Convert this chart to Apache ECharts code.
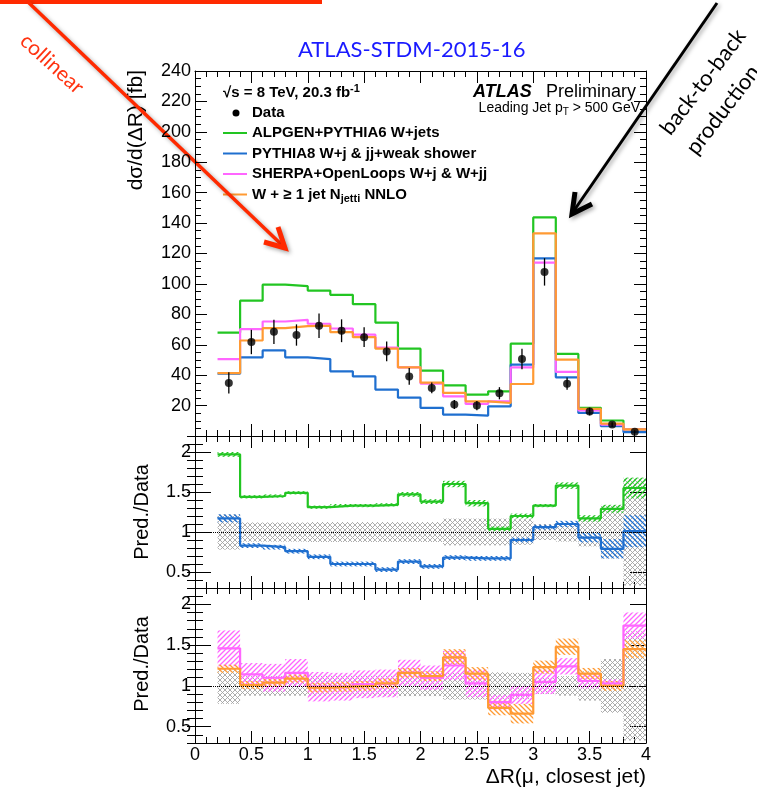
<!DOCTYPE html>
<html>
<head>
<meta charset="utf-8">
<script src="https://cdn.jsdelivr.net/npm/echarts@6/dist/echarts.min.js"></script>
<style>
  html, body { margin: 0; padding: 0; background: #fff; }
  #chart { width: 757px; height: 797px; }
</style>
</head>
<body>
<div id="chart"></div>
<script>
// Bin edges in ΔR(μ, closest jet)
const edges = [0.2, 0.4, 0.6, 0.8, 1.0, 1.2, 1.4, 1.6, 1.8, 2.0, 2.2, 2.4, 2.6, 2.8, 3.0, 3.2, 3.4, 3.6, 3.8, 4.0];
const ratioTicks = [0.5, 1, 1.5, 2];

// dσ/d(ΔR) [fb]
const dataVals = [34.9, 61.8, 68.5, 66.4, 72.5, 69.2, 65.0, 55.6, 39.2, 31.6, 20.7, 20.0, 28.1, 50.6, 107.9, 34.4, 16.1, 7.5, 2.8];
const dataErr  = [7.0, 8.0, 8.0, 7.0, 8.0, 7.5, 6.5, 6.5, 5.5, 3.5, 3.0, 3.0, 4.0, 6.7, 9.0, 4.0, 2.5, 1.5, 1.0];
const alpgen   = [68.0, 89.0, 99.5, 98.5, 95.6, 92.8, 86.7, 74.6, 57.4, 43.0, 33.3, 27.2, 29.4, 60.7, 143.7, 54.0, 18.5, 10.2, 4.3];
const pythia8  = [41.0, 51.7, 56.3, 51.7, 50.6, 42.5, 39.2, 30.5, 25.2, 18.5, 14.1, 13.4, 19.5, 46.9, 116.8, 38.6, 15.2, 6.4, 2.5];
const sherpa   = [50.6, 70.3, 75.3, 76.4, 73.8, 70.7, 66.6, 58.2, 45.1, 34.5, 26.1, 21.1, 22.8, 45.1, 114.0, 42.1, 16.9, 7.5, 4.3];
const nnlo     = [41.4, 62.8, 70.9, 72.2, 72.5, 68.3, 65.0, 57.4, 45.1, 35.1, 28.3, 22.8, 21.7, 34.2, 133.2, 50.2, 17.8, 8.2, 4.3];

// Pred./Data ratios and their uncertainties
const dataRelErr    = [0.22, 0.12, 0.12, 0.12, 0.125, 0.125, 0.125, 0.125, 0.125, 0.125, 0.167, 0.167, 0.167, 0.16, 0.10, 0.12, 0.18, 0.33, 0.67];
const ratioAlpgen   = [1.97, 1.44, 1.45, 1.49, 1.31, 1.33, 1.33, 1.34, 1.47, 1.38, 1.60, 1.36, 1.04, 1.20, 1.33, 1.58, 1.17, 1.29, 1.55];
const errAlpgen     = [0.03, 0.02, 0.02, 0.02, 0.02, 0.02, 0.02, 0.02, 0.03, 0.03, 0.04, 0.04, 0.03, 0.03, 0.02, 0.04, 0.04, 0.05, 0.13];
const ratioPythia8  = [1.17, 0.83, 0.81, 0.76, 0.69, 0.60, 0.60, 0.53, 0.63, 0.57, 0.68, 0.67, 0.67, 0.90, 1.06, 1.10, 0.93, 0.79, 1.01];
const errPythia8    = [0.05, 0.03, 0.03, 0.03, 0.03, 0.03, 0.03, 0.03, 0.03, 0.03, 0.03, 0.03, 0.03, 0.03, 0.03, 0.04, 0.06, 0.12, 0.20];
const ratioSherpa   = [1.46, 1.14, 1.10, 1.16, 0.99, 0.99, 1.02, 1.03, 1.16, 1.10, 1.25, 1.03, 0.80, 0.89, 1.05, 1.24, 1.06, 1.03, 1.74];
const errSherpa     = [0.22, 0.14, 0.17, 0.17, 0.18, 0.17, 0.17, 0.17, 0.16, 0.15, 0.18, 0.17, 0.09, 0.11, 0.15, 0.10, 0.09, 0.05, 0.16];
const ratioNnlo     = [1.21, 1.01, 1.04, 1.09, 0.98, 0.99, 1.00, 1.03, 1.16, 1.12, 1.35, 1.15, 0.73, 0.66, 1.23, 1.48, 1.15, 1.00, 1.45];
const errNnlo       = [0.05, 0.05, 0.05, 0.05, 0.06, 0.06, 0.06, 0.06, 0.06, 0.06, 0.10, 0.08, 0.09, 0.12, 0.08, 0.10, 0.07, 0.06, 0.11];

const C_GREEN = '#22c522', C_BLUE = '#1f6fcf', C_PINK = '#ff66ff', C_ORANGE = '#ff9a33';
const F = '"Liberation Sans", Arial, Helvetica, sans-serif';
const FA = 'Lato, "Open Sans", sans-serif';

// ---- hatch fill patterns ----
function hatch(color, dir, size, width) {
  const c = document.createElement('canvas');
  c.width = size; c.height = size;
  const g = c.getContext('2d');
  g.strokeStyle = color; g.lineWidth = width;
  g.beginPath();
  const s = size;
  if (dir >= 0) { // "/"
    g.moveTo(-s, s); g.lineTo(s, -s);
    g.moveTo(0, s); g.lineTo(s, 0);
    g.moveTo(0, 2 * s); g.lineTo(2 * s, 0);
  }
  if (dir <= 0) { // "\"
    g.moveTo(-s, 0); g.lineTo(s, 2 * s);
    g.moveTo(0, 0); g.lineTo(s, s);
    g.moveTo(0, -s); g.lineTo(2 * s, s);
  }
  g.stroke();
  return { image: c, repeat: 'repeat' };
}
const patGrey   = hatch('#a4a4a4', 0, 5, 0.9);
const patGreen  = hatch(C_GREEN, 1, 5, 1.3);
const patBlue   = hatch(C_BLUE, -1, 5, 1.3);
const patPink   = hatch(C_PINK, 1, 5, 1.3);
const patOrange = hatch(C_ORANGE, -1, 5, 1.3);

// ---- axes ----
function xAx(g, pos, labels) {
  return {
    type: 'value', gridIndex: g, position: pos, min: 0, max: 4, interval: 0.5,
    axisLine: { show: true, onZero: false, lineStyle: { color: '#000', width: 1 } },
    axisTick: { show: true, inside: true, length: 12, lineStyle: { color: '#000' } },
    minorTick: { show: true, splitNumber: 5, length: 6, lineStyle: { color: '#000' } },
    splitLine: { show: false },
    axisLabel: { show: labels, margin: 3, color: '#000', fontSize: 18, fontFamily: F,
      formatter: v => String(+(+v).toFixed(1)) }
  };
}
function yTop(pos, labels) {
  return {
    type: 'value', gridIndex: 0, position: pos, min: 0, max: 240, interval: 20,
    axisLine: { show: true, onZero: false, lineStyle: { color: '#000', width: 1 } },
    axisTick: { show: true, inside: true, length: 12, lineStyle: { color: '#000' } },
    minorTick: { show: true, splitNumber: 4, length: 6, lineStyle: { color: '#000' } },
    splitLine: { show: false },
    axisLabel: { show: labels, margin: 4, color: '#000', fontSize: 18, fontFamily: F,
      formatter: v => (v === 0 ? '' : String(v)) }
  };
}
function yRatioMajor(g, pos, labels) {
  return {
    type: 'value', gridIndex: g, position: pos, min: 0.3, max: 2.2,
    axisLine: { show: true, onZero: false, lineStyle: { color: '#000', width: 1 } },
    axisTick: { show: true, inside: true, length: 16, customValues: ratioTicks, lineStyle: { color: '#000' } },
    splitLine: { show: false },
    axisLabel: { show: labels, margin: 4, color: '#000', fontSize: 18, fontFamily: F,
      customValues: ratioTicks, formatter: v => String(+(+v).toFixed(1)) }
  };
}
function yRatioMinor(g, pos) {
  return {
    type: 'value', gridIndex: g, position: pos, min: 0.3, max: 2.2, interval: 0.1,
    axisLine: { show: false },
    axisTick: { show: true, inside: true, length: 8, lineStyle: { color: '#000' } },
    splitLine: { show: false },
    axisLabel: { show: false }
  };
}

// ---- series builders ----
function stepSeries(name, vals, color, xi, yi, extra) {
  const pts = edges.map((e, i) => [e, vals[Math.min(i, vals.length - 1)]]);
  return Object.assign({
    name, type: 'line', step: 'end', xAxisIndex: xi, yAxisIndex: yi,
    data: pts, showSymbol: false, symbol: 'none', silent: true, z: 4,
    lineStyle: { color, width: 2.2 }, itemStyle: { color }
  }, extra || {});
}
function bandSeries(vals, errs, pattern, xi, yi, z) {
  return {
    type: 'custom', xAxisIndex: xi, yAxisIndex: yi, silent: true, z, clip: true,
    data: vals.map((v, i) => [edges[i], edges[i + 1], v - errs[i], v + errs[i]]),
    encode: { x: [0, 1], y: [2, 3] },
    renderItem: (params, api) => {
      const a = api.coord([api.value(0), api.value(3)]);
      const b = api.coord([api.value(1), api.value(2)]);
      return { type: 'rect', shape: { x: a[0], y: a[1], width: b[0] - a[0], height: b[1] - a[1] },
        style: { fill: pattern } };
    }
  };
}
const unity = dataRelErr.map(() => 1);
const refLine = { silent: true, symbol: 'none', label: { show: false },
  lineStyle: { type: 'dotted', color: '#000', width: 1 }, data: [{ yAxis: 1 }] };

const centers = dataVals.map((_, i) => (edges[i] + edges[i + 1]) / 2);

// axis indices: x 0/1 main panel, 2/3 middle, 4/5 bottom; y 0 main, 2 middle, 6 bottom
const series = [
  stepSeries('ALPGEN+PYTHIA6 W+jets', alpgen, C_GREEN, 0, 0),
  stepSeries('PYTHIA8 W+j & jj+weak shower', pythia8, C_BLUE, 0, 0),
  stepSeries('SHERPA+OpenLoops W+j & W+jj', sherpa, C_PINK, 0, 0),
  stepSeries('W + ≥ 1 jet Njetti NNLO', nnlo, C_ORANGE, 0, 0),
  {
    type: 'custom', xAxisIndex: 0, yAxisIndex: 0, silent: true, z: 5,
    data: dataVals.map((v, i) => [centers[i], v - dataErr[i], v + dataErr[i]]),
    encode: { x: 0, y: [1, 2] },
    renderItem: (params, api) => {
      const lo = api.coord([api.value(0), api.value(1)]);
      const hi = api.coord([api.value(0), api.value(2)]);
      return { type: 'line', shape: { x1: lo[0], y1: lo[1], x2: hi[0], y2: hi[1] },
        style: { stroke: '#000', lineWidth: 1.3 } };
    }
  },
  {
    name: 'Data', type: 'scatter', xAxisIndex: 0, yAxisIndex: 0, z: 6, silent: true,
    data: dataVals.map((v, i) => [centers[i], v]),
    symbol: 'circle', symbolSize: 8, itemStyle: { color: '#000' }
  },
  bandSeries(unity, dataRelErr, patGrey, 2, 2, 1),
  bandSeries(ratioAlpgen, errAlpgen, patGreen, 2, 2, 2),
  bandSeries(ratioPythia8, errPythia8, patBlue, 2, 2, 2),
  stepSeries('ALPGEN ratio', ratioAlpgen, C_GREEN, 2, 2, { markLine: refLine }),
  stepSeries('PYTHIA8 ratio', ratioPythia8, C_BLUE, 2, 2),
  bandSeries(unity, dataRelErr, patGrey, 4, 6, 1),
  bandSeries(ratioSherpa, errSherpa, patPink, 4, 6, 2),
  bandSeries(ratioNnlo, errNnlo, patOrange, 4, 6, 2),
  stepSeries('SHERPA ratio', ratioSherpa, C_PINK, 4, 6, { markLine: refLine }),
  stepSeries('NNLO ratio', ratioNnlo, C_ORANGE, 4, 6)
];

// ---- legend & labels ----
const legendRows = [
  { label: '{b|ALPGEN+PYTHIA6 W+jets}', color: C_GREEN },
  { label: '{b|PYTHIA8 W+j & jj+weak shower}', color: C_BLUE },
  { label: '{b|SHERPA+OpenLoops W+j & W+jj}', color: C_PINK },
  { label: '{b|W + ≥ 1 jet N}{sub|jetti}{b| NNLO}', color: C_ORANGE }
];
const richLeg = {
  b: { font: 'bold 15px ' + F, fill: '#000' },
  sub: { font: 'bold 11px ' + F, fill: '#000', padding: [9, 0, 0, 0] },
  sup: { font: 'bold 11px ' + F, fill: '#000', padding: [0, 0, 8, 0] }
};
const graphics = [
  { type: 'text', x: 223, y: 93, style: { text: '{b|√s = 8 TeV, 20.3 fb}{sup|-1}', rich: richLeg, verticalAlign: 'middle' } },
  { type: 'circle', shape: { cx: 236, cy: 113, r: 3.5 }, style: { fill: '#000' } },
  { type: 'text', x: 252, y: 113, style: { text: 'Data', font: 'bold 15px ' + F, fill: '#000', verticalAlign: 'middle' } }
];
legendRows.forEach((r, i) => {
  const y = 133 + i * 20.5;
  graphics.push({ type: 'line', shape: { x1: 223, y1: y, x2: 247, y2: y }, style: { stroke: r.color, lineWidth: 2 } });
  graphics.push({ type: 'text', x: 252, y, style: { text: r.label, rich: richLeg, verticalAlign: 'middle' } });
});
graphics.push(
  { type: 'text', x: 473, y: 92, style: { text: 'ATLAS', font: 'italic bold 18px ' + F, fill: '#000', verticalAlign: 'middle' } },
  { type: 'text', x: 546, y: 92, style: { text: 'Preliminary', font: '18px ' + F, fill: '#000', verticalAlign: 'middle' } },
  { type: 'text', x: 640, y: 108, style: { text: '{n|Leading Jet p}{s|T}{n| > 500 GeV}', align: 'right', verticalAlign: 'middle',
      rich: { n: { font: '14px ' + F, fill: '#000' }, s: { font: '10px ' + F, fill: '#000', padding: [8, 0, 0, 0] } } } },
  { type: 'text', x: 136, y: 70, rotation: Math.PI / 2, style: { text: 'dσ/d(ΔR) [fb]', font: '21px ' + F, fill: '#000', align: 'right', verticalAlign: 'middle' } },
  { type: 'text', x: 142, y: 512, rotation: Math.PI / 2, style: { text: 'Pred./Data', font: '20px ' + F, fill: '#000', align: 'center', verticalAlign: 'middle' } },
  { type: 'text', x: 142, y: 664, rotation: Math.PI / 2, style: { text: 'Pred./Data', font: '20px ' + F, fill: '#000', align: 'center', verticalAlign: 'middle' } },
  { type: 'text', x: 646, y: 777, style: { text: 'ΔR(μ, closest jet)', font: '21px ' + F, fill: '#000', align: 'right', verticalAlign: 'middle' } },
  // annotation arrows
  { type: 'rect', shape: { x: 0, y: 0, width: 322, height: 4 }, style: { fill: '#ff2a00' } },
  { type: 'line', shape: { x1: 28, y1: 2, x2: 283, y2: 246 },
    style: { stroke: '#ff2a00', lineWidth: 3.5, shadowBlur: 4, shadowColor: 'rgba(0,0,0,0.35)', shadowOffsetX: 2, shadowOffsetY: 2 } },
  { type: 'polyline', shape: { points: [[278, 227], [285, 248], [264, 242]] },
    style: { stroke: '#ff2a00', fill: null, lineWidth: 5, lineJoin: 'miter', shadowBlur: 4, shadowColor: 'rgba(0,0,0,0.35)', shadowOffsetX: 2, shadowOffsetY: 2 } },
  { type: 'text', x: 52, y: 64, rotation: -0.74, style: { text: 'collinear', font: '21px ' + FA, fill: '#ff3311', align: 'center', verticalAlign: 'middle' } },
  { type: 'line', shape: { x1: 717, y1: 3, x2: 573, y2: 212 },
    style: { stroke: '#000', lineWidth: 3, shadowBlur: 4, shadowColor: 'rgba(0,0,0,0.35)', shadowOffsetX: 2, shadowOffsetY: 2 } },
  { type: 'polyline', shape: { points: [[575, 192], [572, 214], [592, 204]] },
    style: { stroke: '#000', fill: null, lineWidth: 5, lineJoin: 'miter', shadowBlur: 4, shadowColor: 'rgba(0,0,0,0.35)', shadowOffsetX: 2, shadowOffsetY: 2 } },
  { type: 'text', x: 703, y: 82, rotation: 0.92, style: { text: 'back-to-back', font: '22px ' + FA, fill: '#000', align: 'center', verticalAlign: 'middle' } },
  { type: 'text', x: 723, y: 110, rotation: 0.92, style: { text: 'production', font: '22px ' + FA, fill: '#000', align: 'center', verticalAlign: 'middle' } }
);

const chart = echarts.init(document.getElementById('chart'), null, { renderer: 'canvas' });
chart.setOption({
  animation: false,
  backgroundColor: '#fff',
  title: { text: 'ATLAS-STDM-2015-16', left: 293, top: 34,
    textStyle: { color: '#1a1aff', fontSize: 22, fontWeight: 'normal', fontFamily: FA } },
  grid: [
    { left: 195, top: 71, width: 451, height: 365 },
    { left: 195, top: 436, width: 451, height: 152 },
    { left: 195, top: 588, width: 451, height: 155 }
  ],
  xAxis: [
    xAx(0, 'bottom', false), xAx(0, 'top', false),
    xAx(1, 'bottom', false), xAx(1, 'top', false),
    xAx(2, 'bottom', true), xAx(2, 'top', false)
  ],
  yAxis: [
    yTop('left', true), yTop('right', false),
    yRatioMajor(1, 'left', true), yRatioMinor(1, 'left'), yRatioMajor(1, 'right', false), yRatioMinor(1, 'right'),
    yRatioMajor(2, 'left', true), yRatioMinor(2, 'left'), yRatioMajor(2, 'right', false), yRatioMinor(2, 'right')
  ],
  series,
  graphic: graphics
});
</script>
</body>
</html>
